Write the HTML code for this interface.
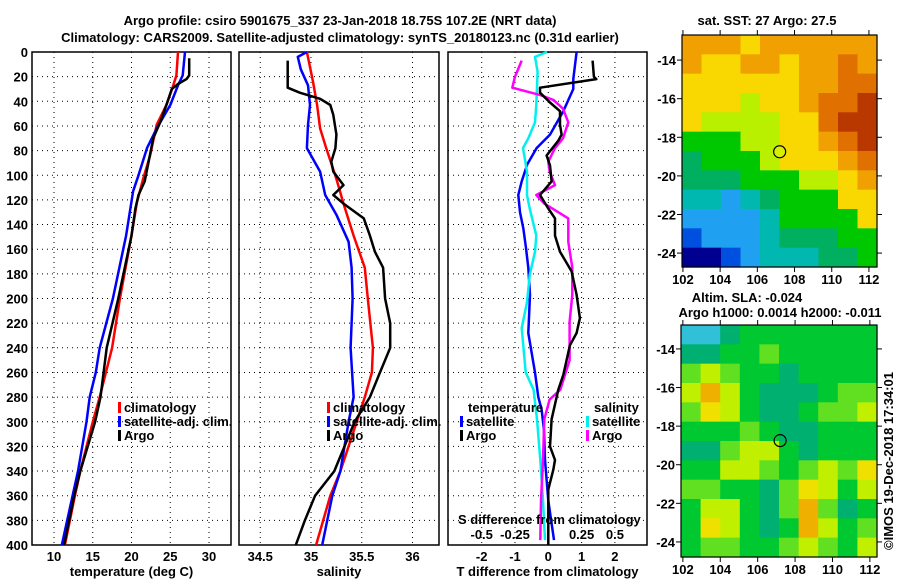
<!DOCTYPE html>
<html><head><meta charset="utf-8"><style>
body{margin:0;background:#fff}
svg text{font-family:"Liberation Sans",sans-serif;font-weight:bold;font-size:13px;fill:#000}
</style></head><body>
<svg id="fig" width="900" height="580" viewBox="0 0 900 580" xmlns="http://www.w3.org/2000/svg">
<rect width="900" height="580" fill="#fff"/>
<text x="340" y="25" text-anchor="middle" font-size="14">Argo profile: csiro 5901675_337 23-Jan-2018 18.75S 107.2E (NRT data)</text>
<text x="340" y="42" text-anchor="middle" font-size="14">Climatology: CARS2009. Satellite-adjusted climatology: synTS_20180123.nc (0.31d earlier)</text>
<g id="p1"></g>
<g id="p2"></g>
<g id="p3"></g>
<g id="m1"></g>
<g id="m2"></g>
<text x="767" y="25" text-anchor="middle">sat. SST: 27 Argo: 27.5</text>
<text x="747" y="302" text-anchor="middle">Altim. SLA: -0.024</text>
<text x="780" y="317" text-anchor="middle">Argo h1000: 0.0014 h2000: -0.011</text>
<text x="0" y="0" transform="translate(893,550) rotate(-90)" font-weight="normal" font-size="12">©IMOS 19-Dec-2018 17:34:01</text>
</svg>
<script>
// ---- profile data (depth m, value) ----
const tClimDepth=[0,19,27,43,59,84,103,122,149,200,240,280,300,340,360,400];
const tClimVal=[26.0,25.8,25.4,24.5,23.25,22.4,21.5,20.7,20.0,18.5,17.5,15.9,15.0,13.4,12.7,11.4];
const tSatDepth=[0,19,27,43,62,78,100,113,149,200,240,260,280,300,340,360,400];
const tSatVal=[26.9,26.6,26.0,25.0,23.25,22.0,20.9,20.2,19.3,17.6,15.9,15.4,14.6,14.2,13.1,12.4,11.0];
const tArgoDepth=[5,19,22,26,30,43,57,70,89,105,116,127,149,200,240,280,300,340,360,400];
const tArgoVal=[27.45,27.45,27.1,26.0,25.2,24.5,23.7,22.8,22.2,21.7,20.9,20.5,20.0,18.3,16.8,16.0,15.3,13.4,12.6,11.3];

const sClimDepth=[0,24,43,62,78,103,123,149,175,200,240,260,280,300,340,360,400];
const sClimVal=[34.96,35.02,35.06,35.09,35.15,35.25,35.32,35.42,35.53,35.56,35.61,35.60,35.53,35.45,35.29,35.19,35.05];
const sSatDepth=[0,4,14,27,43,59,78,97,116,132,154,175,200,240,280,300,340,360,400];
const sSatVal=[34.96,34.87,34.90,34.97,34.99,34.97,34.96,35.09,35.14,35.25,35.37,35.40,35.41,35.39,35.42,35.37,35.29,35.21,35.11];
const sArgoDepth=[7,16,29,33,38,43,51,67,78,89,97,108,116,123,135,149,162,175,200,220,240,260,280,300,340,360,380,400];
const sArgoVal=[34.77,34.77,34.77,34.89,35.09,35.19,35.22,35.25,35.24,35.20,35.22,35.32,35.22,35.32,35.52,35.58,35.63,35.71,35.73,35.78,35.78,35.68,35.58,35.43,35.23,35.04,34.94,34.85];

const dTSatDepth=[0,22,30,48,67,78,91,105,116,130,143,159,175,197,228,260,280,290,307,331,364,396];
const dTSatVal=[0.85,0.75,0.75,0.45,0.05,-0.35,-0.63,-0.8,-0.9,-0.85,-0.75,-0.67,-0.6,-0.55,-0.6,-0.4,-0.3,-0.2,-0.13,-0.1,0,0.17];
const dTArgoDepth=[7,20,22,29,33,41,48,59,67,72,84,92,105,116,127,135,149,162,178,197,216,228,238,250,262,274,298,320,331,339,355,400];
const dTArgoVal=[1.33,1.37,1.44,-0.25,-0.25,0.05,0.35,0.35,0.4,0.3,-0.05,0.05,0.1,-0.25,0.0,0.2,0.2,0.35,0.7,0.85,0.95,0.85,0.65,0.55,0.45,0.3,0.1,0.05,0.2,0.15,0.0,0.0];
const dSSatDepth=[0,4,16,43,57,70,78,97,116,127,149,162,181,203,224,260,274,298,331,364,396];
const dSSatVal=[-0.01,-0.1,-0.08,-0.09,-0.1,-0.15,-0.19,-0.16,-0.16,-0.14,-0.09,-0.1,-0.14,-0.16,-0.2,-0.17,-0.11,-0.085,-0.06,-0.04,-0.025];
const dSArgoDepth=[7,20,29,35,39,46,57,70,78,89,97,108,116,123,135,154,175,197,219,250,274,282,298,331,364,396];
const dSArgoVal=[-0.2,-0.25,-0.27,-0.06,0.04,0.11,0.15,0.11,0.05,0,0.01,0.05,-0.09,-0.03,0.15,0.15,0.18,0.18,0.16,0.16,0.09,0.01,-0.03,-0.04,-0.055,-0.06];

const depthTicks=[0,20,40,60,80,100,120,140,160,180,200,220,240,260,280,300,320,340,360,380,400];
const tTicks=[10,15,20,25,30];
const sTicks=[34.5,35,35.5,36];
const dTTicks=[-2,-1,0,1,2];
const dSTicks=[-0.5,-0.25,0.25,0.5];
const dSTickLabels=["-0.5","-0.25","0.25","0.5"];

// ---- map data (color class per cell, rows north->south) ----
const sstRows=[
[8,8,8,7,8,8,8,8,8,8],
[8,7,7,8,8,7,8,8,9,8],
[7,7,7,7,7,7,8,8,9,9],
[7,7,7,6,7,7,8,9,9,10],
[7,6,6,6,6,7,7,9,10,10],
[5,5,5,6,6,7,7,8,9,10],
[4,5,5,5,6,7,7,7,8,9],
[4,4,4,5,5,5,6,6,7,8],
[3,3,2,3,4,5,5,5,7,7],
[2,2,2,2,3,5,5,5,5,7],
[1,2,2,2,3,4,4,4,5,5],
[0,0,1,2,3,3,3,4,4,5]];
const slaRows=[
[0,0,1,2,2,2,2,2,2,2],
[1,1,2,2,3,2,2,2,2,2],
[3,4,3,2,2,1,2,2,2,2],
[4,6,4,2,1,1,1,2,3,3],
[3,5,4,2,1,1,2,3,3,4],
[2,2,2,3,2,1,1,2,2,2],
[1,1,3,4,4,2,1,2,2,2],
[2,2,4,4,3,2,3,4,3,5],
[3,3,2,2,1,3,5,4,2,4],
[2,4,4,2,1,3,6,3,1,2],
[2,5,4,2,1,2,6,4,2,3],
[2,3,3,2,2,3,4,3,2,4]];
const lonTicks=[102,104,106,108,110,112];
const latTicks=[-14,-16,-18,-20,-22,-24];
const argoLon=107.2, argoLat=-18.75;

const sstColors=["#000090","#0050e0","#20a0f0","#00b8b0","#00b060","#00c800","#b8f000","#f8d800","#f0a000","#e07000","#b83800"];
const slaColors=["#30c0d8","#00b070","#00c830","#60e020","#c0f000","#f0e000","#f0b000"];

const NS="http://www.w3.org/2000/svg";
function mk(parent,tag,attrs){const e=document.createElementNS(NS,tag);for(const k in attrs)e.setAttribute(k,attrs[k]);parent.appendChild(e);return e;}
const Y0=52, Y1=545;
const yD=d=>Y0+(d/400)*(Y1-Y0);

function panel(g,x0,x1,xs,ticks,labels,xlabel){
  for(const d of depthTicks){ if(d===0||d===400)continue;
    const l=mk(g,'line',{x1:x0,x2:x1,y1:yD(d),y2:yD(d),stroke:'#000','stroke-width':1,'stroke-dasharray':'1,4'});
    
    
  }
  ticks.forEach((t,i)=>{
    const l=mk(g,'line',{x1:xs(t),x2:xs(t),y1:Y0,y2:Y1,stroke:'#000','stroke-width':1,'stroke-dasharray':'1,4'});
    
    
    if(labels){const tx=mk(g,'text',{x:xs(t),y:Y1+16,'text-anchor':'middle'});tx.textContent=labels[i];
      
      }
  });
  const r=mk(g,'rect',{x:x0,y:Y0,width:x1-x0,height:Y1-Y0,fill:'none',stroke:'#000','stroke-width':1.5});
  
  
  if(xlabel){const t=mk(g,'text',{x:(x0+x1)/2,y:576,'text-anchor':'middle'});t.textContent=xlabel;
    
    }
}
function series(g,xs,depths,vals,color,name){
  const pts=depths.map((d,i)=>xs(vals[i]).toFixed(1)+','+yD(d).toFixed(1)).join(' ');
  const p=mk(g,'polyline',{points:pts,fill:'none',stroke:color,'stroke-width':2.5,'stroke-linejoin':'round'});
  
  
}
function legend(g,x,y,color,label,name){
  const r=mk(g,'rect',{x:x,y:y-10,width:3,height:11,fill:color});
  
  
  const t=mk(g,'text',{x:x+6,y:y});t.textContent=label;
  
  
}

// Panel 1
const p1=document.getElementById('p1');
const xT=t=>54+(t-10)*7.75;
panel(p1,32,231,xT,tTicks,tTicks.map(String),'temperature (deg C)');
depthTicks.forEach(d=>{const t=mk(p1,'text',{x:28,y:yD(d)+5,'text-anchor':'end'});t.textContent=d;
  
  });
series(p1,xT,tClimDepth,tClimVal,'#f00','temp-climatology-line');
series(p1,xT,tSatDepth,tSatVal,'#00f','temp-satellite-line');
series(p1,xT,tArgoDepth,tArgoVal,'#000','temp-argo-line');
legend(p1,118,412,'#f00','climatology','legend-climatology');
legend(p1,118,426,'#00f','satellite-adj. clim.','legend-satellite');
legend(p1,118,440,'#000','Argo','legend-argo');

// Panel 2
const p2=document.getElementById('p2');
const xS=s=>311+(s-35)*101.5;
panel(p2,239,439,xS,sTicks,["34.5","35","35.5","36"],'salinity');
series(p2,xS,sClimDepth,sClimVal,'#f00','sal-climatology-line');
series(p2,xS,sSatDepth,sSatVal,'#00f','sal-satellite-line');
series(p2,xS,sArgoDepth,sArgoVal,'#000','sal-argo-line');
legend(p2,327,412,'#f00','climatology','legend-climatology');
legend(p2,327,426,'#00f','satellite-adj. clim.','legend-satellite');
legend(p2,327,440,'#000','Argo','legend-argo');

// Panel 3
const p3=document.getElementById('p3');
const xdT=v=>548.3+v*33.3;
const xdS=v=>548.3+v*133.2;
panel(p3,448,647,xdT,dTTicks,dTTicks.map(String),'T difference from climatology');
series(p3,xdT,dTSatDepth,dTSatVal,'#00f','dT-satellite-line');
series(p3,xdS,dSSatDepth,dSSatVal,'#00f0f0','dS-satellite-line');
series(p3,xdS,dSArgoDepth,dSArgoVal,'#f0f','dS-argo-line');
series(p3,xdT,dTArgoDepth,dTArgoVal,'#000','dT-argo-line');
{const t=mk(p3,'text',{x:468,y:412});t.textContent='temperature';
 
 
 const t2=mk(p3,'text',{x:594,y:412});t2.textContent='salinity';
 
 }
legend(p3,460,426,'#00f','satellite','legend-t-satellite');
legend(p3,460,440,'#000','Argo','legend-t-argo');
legend(p3,586,426,'#00f0f0','satellite','legend-s-satellite');
legend(p3,586,440,'#f0f','Argo','legend-s-argo');
{const t=mk(p3,'text',{x:458,y:524});t.textContent='S difference from climatology';
 
 }
dSTicks.forEach((v,i)=>{const t=mk(p3,'text',{x:xdS(v),y:539,'text-anchor':'middle'});t.textContent=dSTickLabels[i];
  
  });

// Maps
function map(g,x0,y0,x1,y1,lon0,lonScale,latTop,latScale,rows,colors,circleFill){
  const nr=rows.length,nc=rows[0].length,cw=(x1-x0)/nc,ch=(y1-y0)/nr;
  rows.forEach((row,r)=>row.forEach((v,c)=>{
    const cell=mk(g,'rect',{x:(x0+c*cw).toFixed(2),y:(y0+r*ch).toFixed(2),width:(cw+0.6).toFixed(2),height:(ch+0.6).toFixed(2),fill:colors[v]});
    
    
  }));
  const fr=mk(g,'rect',{x:x0,y:y0,width:x1-x0,height:y1-y0,fill:'none',stroke:'#000','stroke-width':1.2});
  
  
  const lx=lo=>x0+(lo-lon0)*lonScale, ly=la=>y0+(latTop-la)*latScale;
  lonTicks.forEach(lo=>{
    mk(g,'line',{x1:lx(lo),x2:lx(lo),y1:y0-5,y2:y0,stroke:'#000'});
    mk(g,'line',{x1:lx(lo),x2:lx(lo),y1:y1,y2:y1+5,stroke:'#000'});
    const t=mk(g,'text',{x:lx(lo),y:y1+17,'text-anchor':'middle'});t.textContent=lo;
    
    
  });
  latTicks.forEach(la=>{
    mk(g,'line',{x1:x0-5,x2:x0,y1:ly(la),y2:ly(la),stroke:'#000'});
    mk(g,'line',{x1:x1,x2:x1+5,y1:ly(la),y2:ly(la),stroke:'#000'});
    const t=mk(g,'text',{x:x0-6,y:ly(la)+5,'text-anchor':'end'});t.textContent=la;
    
    
  });
  const c=mk(g,'circle',{cx:lx(argoLon),cy:ly(argoLat),r:6,fill:circleFill,stroke:'#000','stroke-width':1.2});
  
  
}
map(document.getElementById('m1'),682,35,877,267,101.95,18.6,-12.7,19.3,sstRows,sstColors,'#d8f000');
map(document.getElementById('m2'),681,325,877,557,101.9,18.7,-12.76,19.3,slaRows,slaColors,'none');
</script>
</body></html>
